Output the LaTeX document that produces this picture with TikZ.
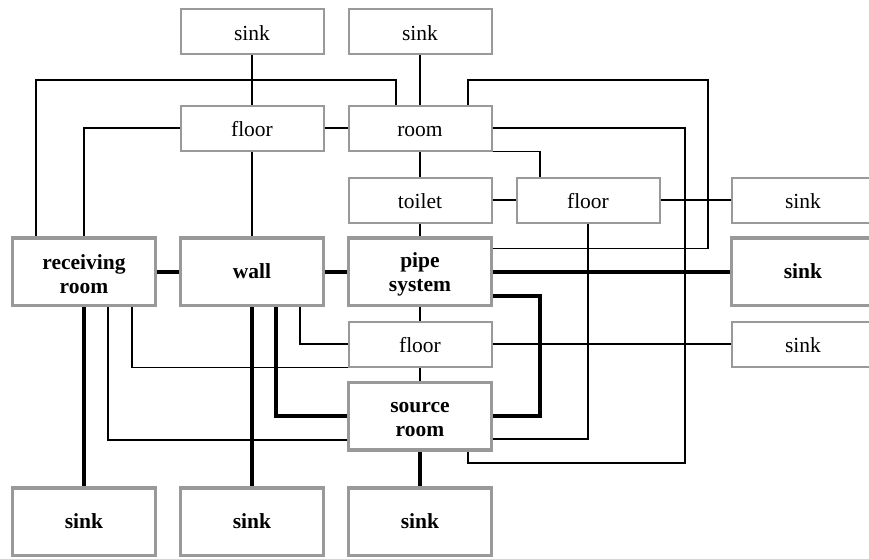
\documentclass[tikz,border=0pt]{standalone}
\usepackage{fontspec}
\setmainfont{Liberation Serif}
\usepackage{tikz}

\begin{document}
\begin{tikzpicture}[x=1pt, y=-1pt, node distance=168pt,
        lite/.style={draw=black!40, line width=2pt, fill=white, inner sep=0pt,
            minimum width=143pt, minimum height=45pt, align=center,
            text height=17pt, text depth=0pt,
            font=\fontsize{21.5}{24}\selectfont},
        heavy/.style={lite, line width=3.5pt, minimum height=67.5pt,
            text height=, text depth=,
            font=\fontsize{21.5}{24}\selectfont\bfseries},
        wire/.style={line width=1.6pt},
        bus/.style={line width=4pt}]
        \useasboundingbox (0,0) rectangle (869,558);

        \node[lite] (sink1) at (252,31.5) {sink};
        \node[lite, right of=sink1] (sink2) {sink};
        \node[lite] (floor1) at (252,128) {floor};
        \node[lite, right of=floor1] (room) {room};
        \node[lite] (toilet) at (420,200) {toilet};
        \node[lite, right of=toilet] (floor2) {floor};
        \node[lite] (sink3) at (803,200) {sink};
        \node[heavy, text height=44pt] (recv) at (84,271.5) {receiving\\room};
        \node[heavy, right of=recv] (wall) {wall};
        \node[heavy, text height=45pt, right of=wall] (pipe) {pipe\\system};
        \node[heavy] (sink4) at (803,271.5) {sink};
        \node[lite] (floor3) at (420,344) {floor};
        \node[lite] (sink5) at (803,344) {sink};
        \node[heavy, text height=40.5pt] (source) at (420,416) {source\\room};
        \node[heavy] (sink6) at (84,521.5) {sink};
        \node[heavy, right of=sink6] (sink7) {sink};
        \node[heavy, right of=sink7] (sink8) {sink};

        % corners of the long wires
        \coordinate (top1) at (36,80);
        \coordinate (top2) at (708,80);
        \coordinate (low1) at (685,463);
        \coordinate (low2) at (540,416);

        \draw[wire]
        (sink1) -- (floor1)
        (sink2) -- (room)
        (floor1) -- (room)
        (floor1) -- (wall)
        (room) -- (toilet)
        (toilet) -- (pipe)
        (toilet) -- (floor2)
        (floor2) -- (sink3)
        (pipe) -- (floor3)
        (floor3) -- (source)
        (floor3) -- (sink5)
        ([xshift=-48pt]recv.north) |- (top1) -| ([xshift=-24pt]room.north)
        (recv.north) |- (floor1.west)
        ([xshift=48pt]room.north) |- (top2) |- ([yshift=23pt]pipe.east)
        (room.east) -| (low1) -| ([xshift=48pt]source.south)
        (room.south east) -| ([xshift=-48pt]floor2.north)
        (floor2.south) |- ([yshift=-23pt]source.east)
        ([xshift=48pt]wall.south) |- (floor3.west)
        ([xshift=48pt]recv.south) |- (floor3.south west)
        ([xshift=24pt]recv.south) |- ([yshift=-24pt]source.west)
        ;

        \draw[bus]
        (recv) -- (wall)
        (wall) -- (pipe)
        (pipe) -- (sink4)
        (recv) -- (sink6)
        (wall) -- (sink7)
        (source) -- (sink8)
        ([yshift=-24pt]pipe.east) -| (low2) -- (source.east)
        ([xshift=24pt]wall.south) |- (source.west)
        ;
\end{tikzpicture}
\end{document}
